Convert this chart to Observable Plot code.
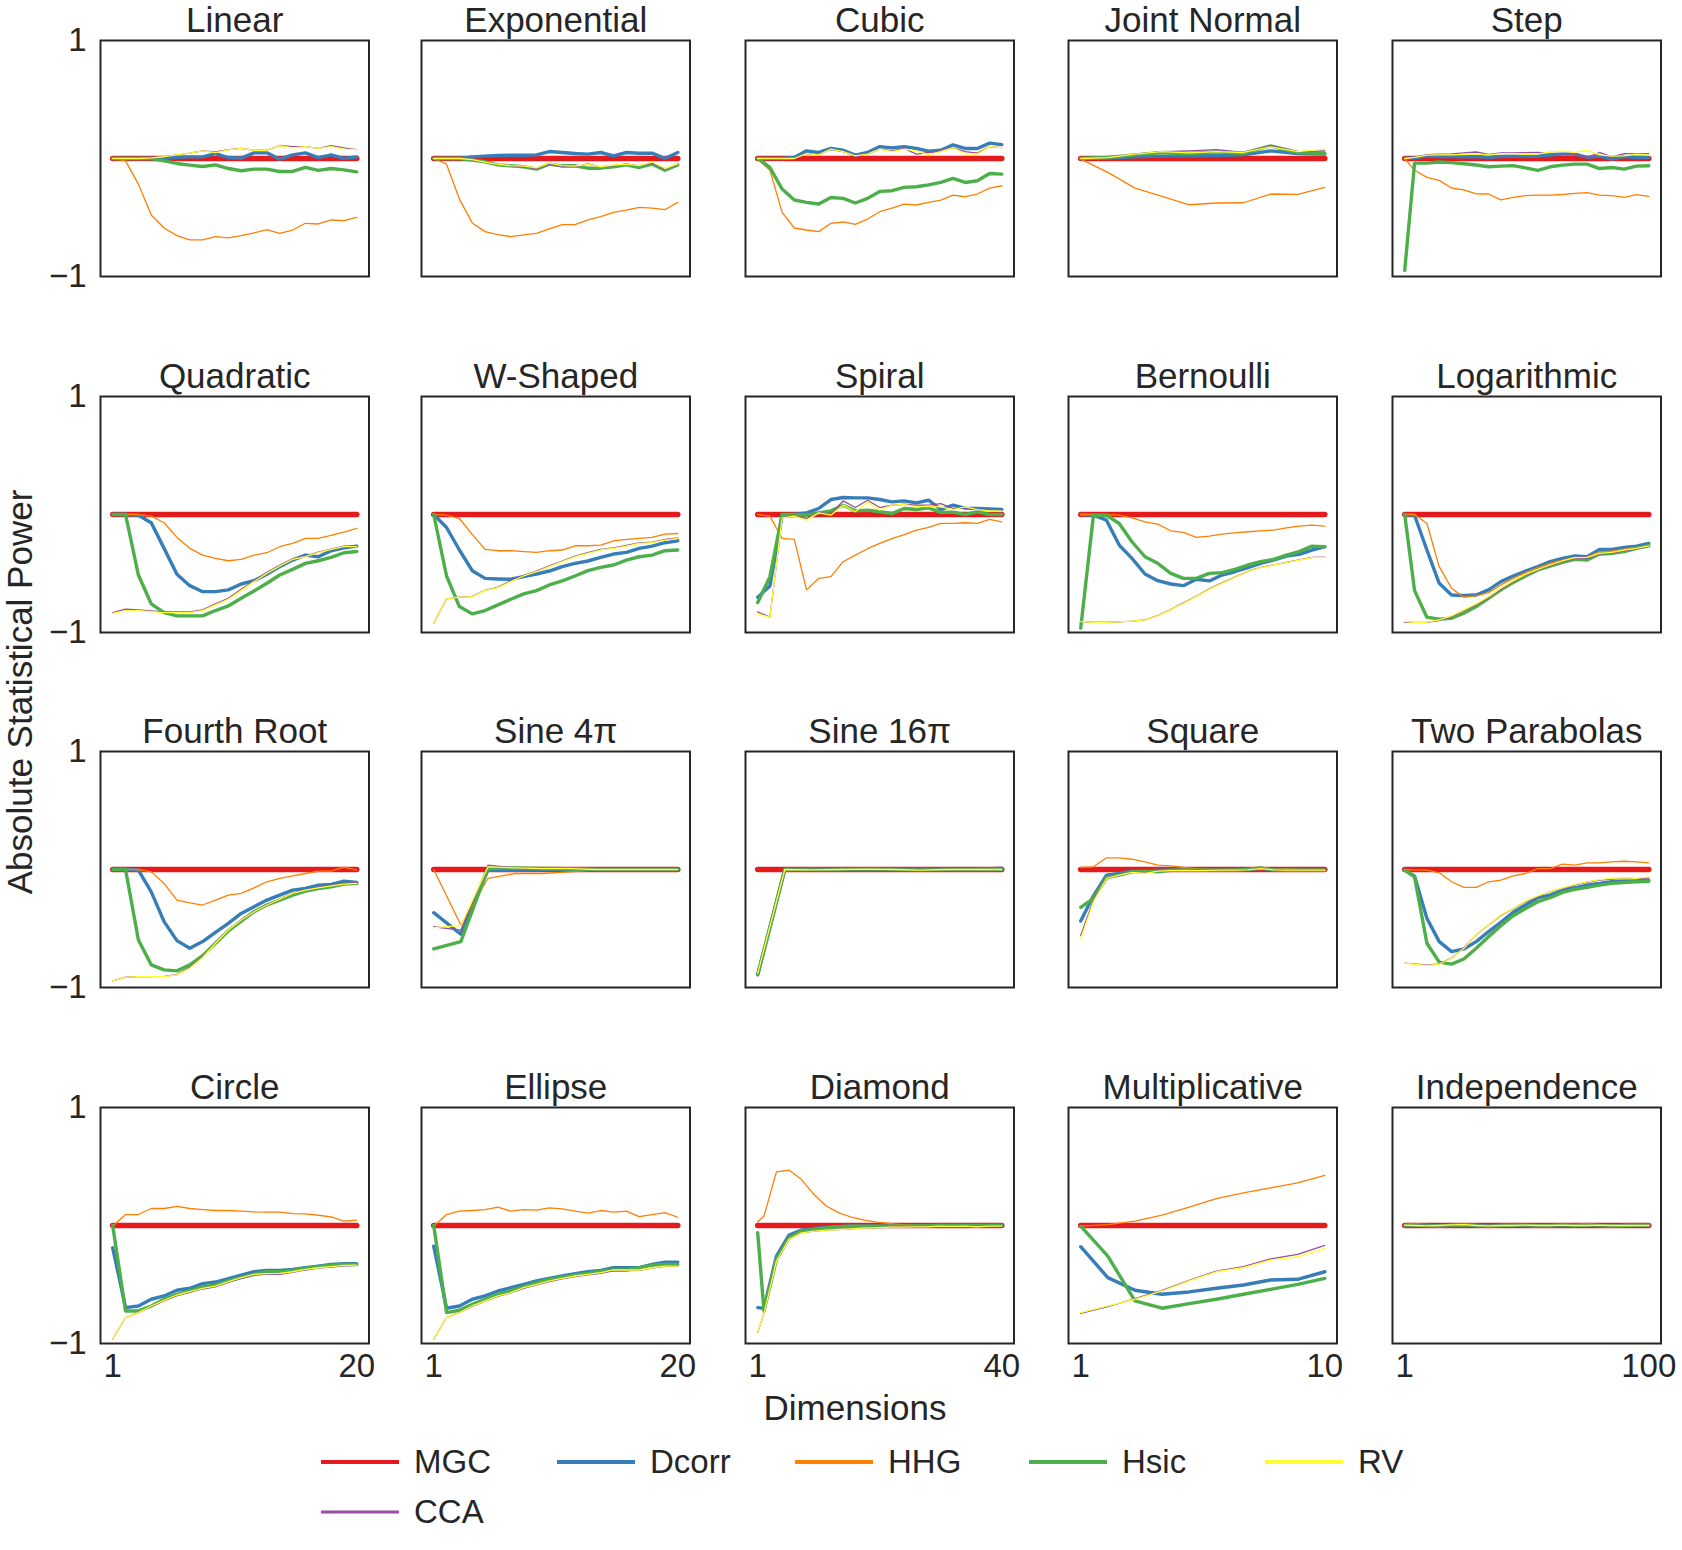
<!DOCTYPE html>
<html><head><meta charset="utf-8">
<script src="https://cdn.jsdelivr.net/npm/d3@7"></script>
<script src="https://cdn.jsdelivr.net/npm/@observablehq/plot@0.6"></script>
<style>
body{margin:0;background:#fff;}
#root{position:relative;width:1682px;height:1550px;font-family:"Liberation Sans",Arial,sans-serif;color:#262626;overflow:hidden;}
.panel{position:absolute;}
.panel svg{max-width:none !important;}
.lbl{position:absolute;white-space:nowrap;font-size:35px;color:#262626;}
.leg{position:absolute;display:flex;align-items:center;height:40px;font-size:33px;color:#262626;}
.leg span{margin-left:14px;}
</style></head><body><div id="root"></div>
<script>
// ---------- data ----------
const titles = ["Linear","Exponential","Cubic","Joint Normal","Step",
  "Quadratic","W-Shaped","Spiral","Bernoulli","Logarithmic",
  "Fourth Root","Sine 4π","Sine 16π","Square","Two Parabolas",
  "Circle","Ellipse","Diamond","Multiplicative","Independence"];
const methods = ["MGC","Dcorr","HHG","Hsic","RV","CCA"];
const colors = ["#e41a1c","#377eb8","#ff7f00","#4daf4a","#ffff33","#984ea3"];
const xMax = [20,20,40,10,100];

// dimension grids
const d20 = [1,2,3,4,5,6,7,8,9,10,11,12,13,14,15,16,17,18,19,20];
const d20s = [1,3.11,5.22,7.33,9.44,11.56,13.67,15.78,17.89,20];
const d40 = [1,2.95,4.9,6.85,8.8,10.75,12.7,14.65,16.6,18.55,20.5,22.45,24.4,26.35,28.3,30.25,32.2,34.15,36.1,38.05,40];
const d40s = [1,5.33,9.67,14,18.33,22.67,27,31.33,35.67,40];
const d40d = [1,2,4,6,8,10,12,14,16,18,20,22,24,26,28,30,32,34,36,38,40];
const d10 = [1,2,3,4,5,6,7,8,9,10];
const d10f = [1,1.47,1.95,2.42,2.89,3.37,3.84,4.32,4.79,5.26,5.74,6.21,6.68,7.16,7.63,8.11,8.58,9.05,9.53,10];
const d100 = [1,5,10,15,20,25,30,35,40,45,50,55,60,65,70,75,80,85,90,95,100];
const panelDims = [d20,d20,d40,d10,d100, d20,d20,d40,d10f,d100, d20,d20s,d40s,d10f,d100, d20,d20,d40d,d10,d100];

const Z10 = [0,0,0,0,0,0,0,0,0,0];
const Z20 = [0,0,0,0,0,0,0,0,0,0,0,0,0,0,0,0,0,0,0,0];
const Z21 = [0,0,0,0,0,0,0,0,0,0,0,0,0,0,0,0,0,0,0,0,0];
const MGC = [Z20,Z20,Z21,Z10,Z21, Z20,Z20,Z21,Z20,Z21, Z20,Z10,Z10,Z20,Z21, Z20,Z20,Z21,Z10,Z21];

const Dcorr = [
 [0,0,0,0,0,0.01,0.014,0.014,0.042,0.008,0.003,0.048,0.048,-0.006,0.031,0.048,0.008,0.031,0.0,0.014],
 [0,0,0,0.014,0.02,0.025,0.028,0.028,0.031,0.059,0.051,0.042,0.037,0.051,0.023,0.051,0.045,0.045,0.0,0.051],
 [0,0,0,0.008,0.065,0.051,0.085,0.07,0.028,0.051,0.101,0.09,0.101,0.085,0.062,0.07,0.115,0.085,0.085,0.13,0.118],
 [0,0.003,0.014,0.02,0.023,0.025,0.031,0.065,0.042,0.037],
 [0,0.005,0.02,0.017,0.017,0.014,0.017,0.01,0.017,0.02,0.017,0.02,0.03,0.037,0.037,0.01,0.02,-0.006,0.017,0.008,0.008],
 [0,0,-0.006,-0.07,-0.287,-0.507,-0.603,-0.654,-0.654,-0.639,-0.589,-0.561,-0.507,-0.442,-0.386,-0.344,-0.358,-0.307,-0.282,-0.268],
 [0,-0.11,-0.301,-0.476,-0.541,-0.546,-0.549,-0.527,-0.504,-0.479,-0.442,-0.414,-0.394,-0.363,-0.335,-0.321,-0.287,-0.268,-0.239,-0.223],
 [-0.701,-0.606,-0.006,0,0.014,0.051,0.127,0.144,0.141,0.141,0.127,0.107,0.115,0.099,0.121,0.042,0.079,0.054,0.051,0.048,0.042],
 [0,-0.006,-0.048,-0.259,-0.372,-0.504,-0.561,-0.589,-0.603,-0.549,-0.563,-0.513,-0.485,-0.451,-0.414,-0.386,-0.352,-0.338,-0.301,-0.273],
 [0,-0.006,-0.301,-0.583,-0.682,-0.687,-0.682,-0.639,-0.569,-0.521,-0.479,-0.442,-0.4,-0.372,-0.352,-0.358,-0.296,-0.296,-0.279,-0.268,-0.245],
 [0,0,-0.006,-0.189,-0.442,-0.603,-0.668,-0.611,-0.532,-0.456,-0.372,-0.315,-0.259,-0.217,-0.175,-0.161,-0.132,-0.127,-0.099,-0.11],
 [-0.366,-0.549,-0.006,-0.006,-0.003,0,0,0,0,0],
 [-0.89,0,0,0,-0.003,0,0.003,0,0,0.01],
 [-0.437,-0.223,-0.048,-0.034,-0.014,-0.02,-0.006,-0.006,-0.006,-0.006,-0.006,-0.006,-0.006,-0.003,0.01,-0.003,-0.006,-0.006,-0.006,-0.006],
 [-0.006,-0.056,-0.414,-0.611,-0.696,-0.673,-0.611,-0.527,-0.448,-0.363,-0.301,-0.239,-0.217,-0.175,-0.155,-0.132,-0.118,-0.104,-0.099,-0.096,-0.09],
 [-0.189,-0.696,-0.682,-0.625,-0.597,-0.549,-0.532,-0.493,-0.479,-0.451,-0.42,-0.392,-0.38,-0.38,-0.372,-0.358,-0.344,-0.33,-0.324,-0.324],
 [-0.175,-0.701,-0.682,-0.625,-0.597,-0.555,-0.527,-0.499,-0.47,-0.448,-0.428,-0.408,-0.392,-0.38,-0.358,-0.358,-0.358,-0.33,-0.31,-0.31],
 [-0.696,-0.701,-0.259,-0.082,-0.039,-0.025,-0.014,-0.011,-0.006,-0.006,-0.006,-0.003,-0.003,-0.003,0,0,0,0,0,0,0.003],
 [-0.18,-0.442,-0.549,-0.583,-0.563,-0.532,-0.504,-0.462,-0.456,-0.392],
 [0,0.003,0,-0.003,0,0.005,0,-0.003,0,0,0.003,0,-0.003,0,0,0.008,0,-0.003,0,0,0]
];

const HHG = [
 [0,-0.02,-0.217,-0.479,-0.589,-0.654,-0.69,-0.69,-0.662,-0.673,-0.654,-0.631,-0.603,-0.634,-0.606,-0.549,-0.555,-0.521,-0.527,-0.499],
 [0,-0.048,-0.344,-0.546,-0.62,-0.645,-0.662,-0.648,-0.634,-0.597,-0.561,-0.561,-0.521,-0.493,-0.456,-0.437,-0.414,-0.42,-0.434,-0.372],
 [-0.006,-0.099,-0.456,-0.589,-0.606,-0.62,-0.549,-0.538,-0.558,-0.513,-0.451,-0.42,-0.386,-0.394,-0.372,-0.352,-0.31,-0.324,-0.301,-0.251,-0.231],
 [-0.006,-0.118,-0.251,-0.321,-0.392,-0.377,-0.375,-0.301,-0.304,-0.245],
 [0,-0.1,-0.16,-0.185,-0.25,-0.265,-0.3,-0.301,-0.35,-0.33,-0.315,-0.31,-0.31,-0.305,-0.295,-0.29,-0.31,-0.315,-0.33,-0.307,-0.321],
 [0,0,0,-0.014,-0.07,-0.194,-0.287,-0.344,-0.372,-0.392,-0.38,-0.344,-0.324,-0.273,-0.245,-0.203,-0.203,-0.177,-0.149,-0.118],
 [0,-0.006,-0.034,-0.169,-0.296,-0.307,-0.307,-0.315,-0.321,-0.307,-0.301,-0.265,-0.265,-0.259,-0.223,-0.211,-0.203,-0.194,-0.166,-0.161],
 [0,-0.014,-0.203,-0.211,-0.639,-0.541,-0.527,-0.4,-0.344,-0.29,-0.245,-0.205,-0.17,-0.132,-0.11,-0.075,-0.076,-0.07,-0.076,-0.042,-0.062],
 [0,0,0,-0.006,-0.028,-0.062,-0.082,-0.138,-0.152,-0.194,-0.183,-0.166,-0.155,-0.146,-0.138,-0.132,-0.113,-0.099,-0.09,-0.099],
 [0,0,-0.076,-0.442,-0.625,-0.701,-0.69,-0.662,-0.597,-0.541,-0.493,-0.451,-0.414,-0.386,-0.363,-0.363,-0.315,-0.31,-0.293,-0.279,-0.259],
 [0,0,0,-0.02,-0.118,-0.259,-0.282,-0.301,-0.259,-0.217,-0.203,-0.155,-0.104,-0.076,-0.054,-0.034,-0.014,-0.014,0.02,-0.006],
 [0,-0.47,-0.076,-0.034,-0.034,-0.02,-0.006,-0.006,-0.006,-0.006],
 [-0.87,0,0,0,0,0,0,0,0,0],
 [0.017,0.023,0.099,0.099,0.087,0.065,0.037,0.031,0.017,0.008,0,0,0,0,0,0.003,0.008,0,0,0],
 [0,-0.006,-0.006,-0.028,-0.104,-0.152,-0.152,-0.104,-0.09,-0.054,-0.034,0.008,0.008,0.045,0.037,0.056,0.056,0.065,0.07,0.065,0.056],
 [-0.006,0.093,0.093,0.144,0.144,0.163,0.144,0.135,0.127,0.127,0.121,0.115,0.113,0.113,0.101,0.099,0.087,0.073,0.037,0.045],
 [-0.006,0.093,0.121,0.127,0.135,0.155,0.121,0.135,0.13,0.149,0.141,0.121,0.104,0.127,0.113,0.121,0.076,0.093,0.11,0.07],
 [0.031,0.079,0.454,0.47,0.389,0.262,0.163,0.107,0.07,0.045,0.028,0.017,0.008,0.003,0,0,0.003,0,0,0.003,0],
 [-0.006,0.008,0.037,0.087,0.155,0.228,0.276,0.318,0.361,0.425],
 [0,-0.003,0,0,-0.003,0,0.003,0,-0.003,0,0,0,0.003,0,-0.003,0,0,0.003,0,0,0]
];

const Hsic = [
 [0,0,0,0,-0.02,-0.042,-0.056,-0.068,-0.054,-0.085,-0.104,-0.09,-0.09,-0.11,-0.11,-0.076,-0.101,-0.085,-0.096,-0.113],
 [0,0,0,-0.014,-0.028,-0.054,-0.062,-0.07,-0.09,-0.048,-0.062,-0.062,-0.082,-0.082,-0.07,-0.054,-0.076,-0.048,-0.099,-0.054],
 [0,-0.076,-0.259,-0.352,-0.372,-0.386,-0.33,-0.338,-0.377,-0.338,-0.279,-0.273,-0.245,-0.239,-0.223,-0.203,-0.169,-0.203,-0.189,-0.127,-0.132],
 [0,0.008,0.031,0.051,0.042,0.056,0.045,0.107,0.051,0.045],
 [-0.949,-0.039,-0.039,-0.03,-0.035,-0.045,-0.055,-0.07,-0.065,-0.06,-0.08,-0.1,-0.07,-0.056,-0.048,-0.048,-0.085,-0.076,-0.09,-0.065,-0.062],
 [0,0,-0.513,-0.758,-0.831,-0.859,-0.859,-0.859,-0.814,-0.775,-0.71,-0.648,-0.583,-0.513,-0.465,-0.414,-0.392,-0.363,-0.324,-0.313],
 [0,-0.521,-0.78,-0.842,-0.814,-0.766,-0.718,-0.673,-0.645,-0.597,-0.563,-0.521,-0.476,-0.448,-0.428,-0.386,-0.358,-0.344,-0.307,-0.301],
 [-0.746,-0.527,0,0,-0.006,0.014,0.031,0.079,0.031,0.037,0.023,0.008,0.051,0.042,0.056,0.017,0.02,0,0.023,0,0],
 [-0.963,-0.006,-0.006,-0.076,-0.231,-0.358,-0.414,-0.499,-0.541,-0.541,-0.499,-0.493,-0.465,-0.428,-0.4,-0.38,-0.344,-0.315,-0.268,-0.273],
 [0,-0.645,-0.87,-0.887,-0.879,-0.837,-0.78,-0.71,-0.639,-0.577,-0.521,-0.47,-0.437,-0.406,-0.38,-0.386,-0.335,-0.33,-0.315,-0.287,-0.265],
 [0,0,-0.597,-0.808,-0.851,-0.859,-0.808,-0.73,-0.625,-0.521,-0.437,-0.358,-0.301,-0.259,-0.217,-0.183,-0.161,-0.146,-0.124,-0.118],
 [-0.673,-0.611,0.008,0.014,0.008,0.006,0,0,0,0],
 [-0.893,0,0,0,0.003,0,-0.003,0,0,0],
 [-0.321,-0.245,-0.07,-0.048,-0.02,-0.014,-0.02,-0.006,-0.006,-0.006,-0.006,-0.006,-0.006,0.003,0.014,-0.003,-0.006,-0.006,-0.006,-0.006],
 [-0.006,-0.062,-0.625,-0.785,-0.802,-0.758,-0.668,-0.569,-0.476,-0.392,-0.33,-0.273,-0.239,-0.194,-0.169,-0.152,-0.132,-0.118,-0.11,-0.104,-0.099],
 [0,-0.724,-0.724,-0.682,-0.625,-0.583,-0.555,-0.521,-0.504,-0.47,-0.442,-0.414,-0.392,-0.392,-0.38,-0.363,-0.349,-0.338,-0.33,-0.33],
 [0,-0.738,-0.718,-0.668,-0.625,-0.583,-0.555,-0.521,-0.485,-0.456,-0.437,-0.42,-0.406,-0.386,-0.377,-0.377,-0.358,-0.338,-0.33,-0.33],
 [-0.062,-0.724,-0.287,-0.104,-0.048,-0.034,-0.02,-0.011,-0.006,-0.006,-0.006,-0.006,-0.006,-0.003,-0.003,0,0,0,0,0,0],
 [-0.006,-0.259,-0.639,-0.701,-0.662,-0.625,-0.583,-0.541,-0.499,-0.448],
 [0,0.008,0,-0.005,0.003,0.006,0,-0.005,0,0.003,0,-0.003,0,0.005,0,0.006,0,-0.003,0,0.003,0.003]
];

const RV = [
 [0,0,0,0.005,0.015,0.03,0.045,0.065,0.05,0.073,0.085,0.07,0.07,0.11,0.09,0.1,0.085,0.1,0.08,0.075],
 [0,0,0,-0.01,-0.03,-0.05,-0.06,-0.065,-0.08,-0.04,-0.06,-0.065,-0.05,-0.07,-0.055,-0.05,-0.06,-0.03,-0.085,-0.045],
 [0,0,0,0,0.042,0.031,0.079,0.059,0.023,0.037,0.079,0.059,0.079,0.065,0.031,0.059,0.093,0.037,0.037,0.101,0.093],
 [0,0.008,0.037,0.059,0.048,0.059,0.051,0.099,0.059,0.079],
 [0,0.01,0.028,0.031,0.031,0.035,0.04,0.03,0.042,0.042,0.035,0.04,0.055,0.065,0.051,0.07,0.031,0.02,0.023,0.037,0.031],
 [-0.837,-0.814,-0.814,-0.823,-0.831,-0.831,-0.831,-0.814,-0.766,-0.718,-0.645,-0.569,-0.499,-0.437,-0.38,-0.358,-0.324,-0.296,-0.273,-0.273],
 [-0.921,-0.715,-0.701,-0.696,-0.645,-0.62,-0.569,-0.521,-0.485,-0.442,-0.4,-0.358,-0.33,-0.301,-0.287,-0.268,-0.245,-0.239,-0.217,-0.203],
 [-0.845,-0.87,-0.028,-0.014,-0.048,0.014,-0.006,0.079,0.023,0.107,0.037,0.079,0.085,0.065,0.07,0.065,0.042,0.065,0.042,0.031,0.031],
 [-0.907,-0.913,-0.913,-0.91,-0.904,-0.893,-0.859,-0.808,-0.752,-0.696,-0.634,-0.583,-0.532,-0.485,-0.451,-0.428,-0.408,-0.386,-0.366,-0.363],
 [-0.907,-0.913,-0.913,-0.893,-0.859,-0.808,-0.758,-0.696,-0.625,-0.563,-0.507,-0.465,-0.428,-0.394,-0.366,-0.363,-0.33,-0.321,-0.301,-0.287,-0.265],
 [-0.944,-0.915,-0.907,-0.907,-0.907,-0.893,-0.837,-0.746,-0.625,-0.513,-0.428,-0.358,-0.301,-0.251,-0.203,-0.175,-0.155,-0.138,-0.124,-0.118],
 [-0.493,-0.476,0.023,0.014,0.008,0.008,0,0,0,0],
 [-0.88,0,-0.003,0,0.003,0,-0.005,0,0,0],
 [-0.589,-0.273,-0.076,-0.048,-0.025,-0.034,-0.014,-0.01,-0.008,-0.01,-0.008,-0.006,-0.006,-0.003,0.008,-0.003,-0.006,-0.006,-0.006,-0.006],
 [-0.794,-0.803,-0.814,-0.803,-0.752,-0.668,-0.555,-0.47,-0.386,-0.33,-0.268,-0.223,-0.189,-0.155,-0.127,-0.104,-0.085,-0.076,-0.07,-0.076,-0.062],
 [-0.963,-0.78,-0.738,-0.682,-0.634,-0.589,-0.561,-0.532,-0.513,-0.476,-0.442,-0.414,-0.408,-0.406,-0.392,-0.372,-0.358,-0.349,-0.338,-0.335],
 [-0.963,-0.78,-0.738,-0.682,-0.639,-0.597,-0.569,-0.527,-0.499,-0.47,-0.448,-0.428,-0.414,-0.4,-0.377,-0.377,-0.377,-0.358,-0.344,-0.344],
 [-0.907,-0.746,-0.301,-0.118,-0.062,-0.048,-0.039,-0.034,-0.028,-0.02,-0.02,-0.014,-0.014,-0.011,-0.011,-0.006,-0.008,-0.006,-0.011,-0.006,-0.006],
 [-0.738,-0.682,-0.625,-0.555,-0.47,-0.392,-0.358,-0.293,-0.265,-0.194],
 [0.003,0,-0.003,0,0.005,0.008,0,-0.003,0,0,0.003,0,0,0.003,0,0,0.003,0,0,0,0]
];

const CCA = [
 [0,0,0,0.005,0.015,0.03,0.045,0.065,0.055,0.075,0.085,0.07,0.07,0.11,0.1,0.1,0.085,0.11,0.09,0.075],
 [0,0,0,-0.01,-0.03,-0.05,-0.06,-0.07,-0.085,-0.05,-0.07,-0.07,-0.045,-0.07,-0.06,-0.05,-0.06,-0.04,-0.09,-0.05],
 [0,0,0,0,0.042,0.031,0.079,0.059,0.023,0.037,0.079,0.065,0.085,0.037,0.051,0.065,0.093,0.059,0.045,0.101,0.093],
 [0,0.008,0.037,0.059,0.065,0.076,0.051,0.107,0.059,0.065],
 [0,0.01,0.033,0.037,0.04,0.048,0.055,0.035,0.048,0.048,0.05,0.051,0.045,0.042,0.037,0.01,0.051,0.014,0.042,0.042,0.042],
 [-0.831,-0.803,-0.808,-0.817,-0.825,-0.825,-0.825,-0.808,-0.758,-0.71,-0.634,-0.561,-0.49,-0.431,-0.375,-0.352,-0.318,-0.293,-0.268,-0.268],
 [-0.921,-0.715,-0.701,-0.693,-0.642,-0.615,-0.563,-0.515,-0.479,-0.436,-0.394,-0.352,-0.324,-0.296,-0.282,-0.262,-0.24,-0.234,-0.212,-0.198],
 [-0.825,-0.87,-0.028,-0.014,-0.034,0.014,0.008,0.115,0.059,0.121,0.059,0.079,0.087,0.079,0.079,0.093,0.051,0.059,0.042,0.037,0.042],
 [-0.907,-0.913,-0.913,-0.91,-0.904,-0.893,-0.857,-0.805,-0.749,-0.693,-0.63,-0.58,-0.53,-0.483,-0.449,-0.426,-0.406,-0.384,-0.364,-0.361],
 [-0.915,-0.915,-0.915,-0.899,-0.865,-0.814,-0.766,-0.704,-0.634,-0.569,-0.513,-0.47,-0.434,-0.4,-0.372,-0.369,-0.335,-0.327,-0.307,-0.293,-0.268],
 [-0.944,-0.913,-0.907,-0.907,-0.905,-0.89,-0.83,-0.74,-0.62,-0.51,-0.425,-0.355,-0.298,-0.248,-0.2,-0.172,-0.15,-0.132,-0.118,-0.112],
 [-0.485,-0.513,0.037,0.014,0.008,0.008,0,0,0,0],
 [-0.88,0,0,0,0,0,0,0,0,0],
 [-0.56,-0.26,-0.07,-0.045,-0.022,-0.03,-0.012,-0.01,-0.008,-0.008,-0.008,-0.006,-0.006,-0.003,0.008,-0.003,-0.006,-0.006,-0.006,-0.006],
 [-0.794,-0.8,-0.81,-0.8,-0.75,-0.665,-0.555,-0.47,-0.39,-0.333,-0.272,-0.228,-0.19,-0.158,-0.13,-0.108,-0.09,-0.082,-0.076,-0.08,-0.07],
 [-0.963,-0.78,-0.738,-0.685,-0.638,-0.594,-0.566,-0.538,-0.52,-0.483,-0.448,-0.42,-0.415,-0.413,-0.398,-0.377,-0.362,-0.352,-0.341,-0.338],
 [-0.963,-0.78,-0.738,-0.685,-0.642,-0.6,-0.572,-0.532,-0.504,-0.476,-0.453,-0.433,-0.418,-0.405,-0.382,-0.382,-0.38,-0.362,-0.347,-0.347],
 [-0.907,-0.746,-0.301,-0.118,-0.062,-0.048,-0.039,-0.034,-0.028,-0.02,-0.02,-0.014,-0.014,-0.011,-0.011,-0.006,-0.008,-0.006,-0.011,-0.006,-0.006],
 [-0.744,-0.687,-0.62,-0.549,-0.465,-0.386,-0.349,-0.282,-0.245,-0.169],
 [0,0.003,0,-0.003,0,0.003,0,0,0.003,0,0,-0.003,0,0,0.003,0,0,0,0.003,0,0]
];

const seriesByMethod = {MGC, Dcorr, HHG, Hsic, RV, CCA};
// ---------- layout ----------
const root = document.getElementById("root");
const colLeft = [100, 420.5, 744.5, 1067.5, 1391.5];
const rowTop = [39.7, 395.8, 751, 1107];
const PW = 268.5, PH = 236;
const FONT = '"Liberation Sans", Arial, sans-serif';
const ink = "#262626";
const drawOrder = [["MGC",5.5],["Dcorr",3.4],["HHG",1.3],["Hsic",3.4],["CCA",1.3],["RV",1.3]];
const minusFmt = d => d < 0 ? "\u2212" + Math.abs(d) : String(d);

titles.forEach((title, i) => {
  const row = Math.floor(i / 5), col = i % 5;
  const xs = panelDims[i];
  const m = xMax[col];
  const pad = (m - 1) * 0.05;
  const ML = 95, MR = 22, MT = 50, MB = row === 3 ? 60 : 10;
  const marks = [];
  for (const [name, sw] of drawOrder) {
    const vals = seriesByMethod[name][i];
    const data = xs.map((x, j) => ({x, y: vals[j]}));
    marks.push(Plot.line(data, {x: "x", y: "y", stroke: colors[methods.indexOf(name)], strokeWidth: sw, strokeLinejoin: "round", strokeLinecap: "round"}));
  }
  marks.push(Plot.frame({stroke: ink, strokeWidth: 2}));
  marks.push(Plot.text([title], {frameAnchor: "top", lineAnchor: "middle", dy: -20, fontSize: 35, fill: ink, fontFamily: FONT}));
  if (col === 0) marks.push(Plot.axisY([-1, 1], {tickSize: 0, tickPadding: 14, fontSize: 33, tickFormat: minusFmt, label: null, fill: ink}));
  if (row === 3) marks.push(Plot.axisX([1, m], {tickSize: 0, tickPadding: 10, fontSize: 33, label: null, fill: ink}));
  const W = ML + PW + MR, H = MT + PH + MB;
  const chart = Plot.plot({
    width: W, height: H,
    marginLeft: ML, marginRight: MR, marginTop: MT, marginBottom: MB,
    style: {fontFamily: FONT, background: "transparent", overflow: "visible", color: ink},
    x: {domain: [1 - pad, m + pad], axis: null},
    y: {domain: [-1, 1], axis: null},
    marks
  });
  const div = document.createElement("div");
  div.className = "panel";
  div.style.left = (colLeft[col] - ML) + "px";
  div.style.top = (rowTop[row] - MT) + "px";
  div.style.width = W + "px";
  div.style.height = H + "px";
  div.appendChild(chart);
  root.appendChild(div);
});

// axis labels
const yl = document.createElement("div");
yl.className = "lbl";
yl.textContent = "Absolute Statistical Power";
yl.style.left = "20px"; yl.style.top = "692px";
yl.style.transform = "translate(-50%,-50%) rotate(-90deg)";
root.appendChild(yl);
const xl = document.createElement("div");
xl.className = "lbl";
xl.textContent = "Dimensions";
xl.style.left = "855px"; xl.style.top = "1408px";
xl.style.transform = "translate(-50%,-50%)";
root.appendChild(xl);

// legend
const legPos = [[320,1462],[556,1462],[794,1462],[1028,1462],[1264,1462],[320,1512]];
const legW = [4,4,4,4,4,3];
methods.forEach((name, k) => {
  const item = document.createElement("div");
  item.className = "leg";
  item.style.left = legPos[k][0] + "px";
  item.style.top = (legPos[k][1] - 20) + "px";
  item.innerHTML = `<svg width="80" height="40"><line x1="1" y1="20" x2="79" y2="20" stroke="${colors[k]}" stroke-width="${legW[k]}"/></svg><span>${name}</span>`;
  root.appendChild(item);
});
</script>
</body></html>
